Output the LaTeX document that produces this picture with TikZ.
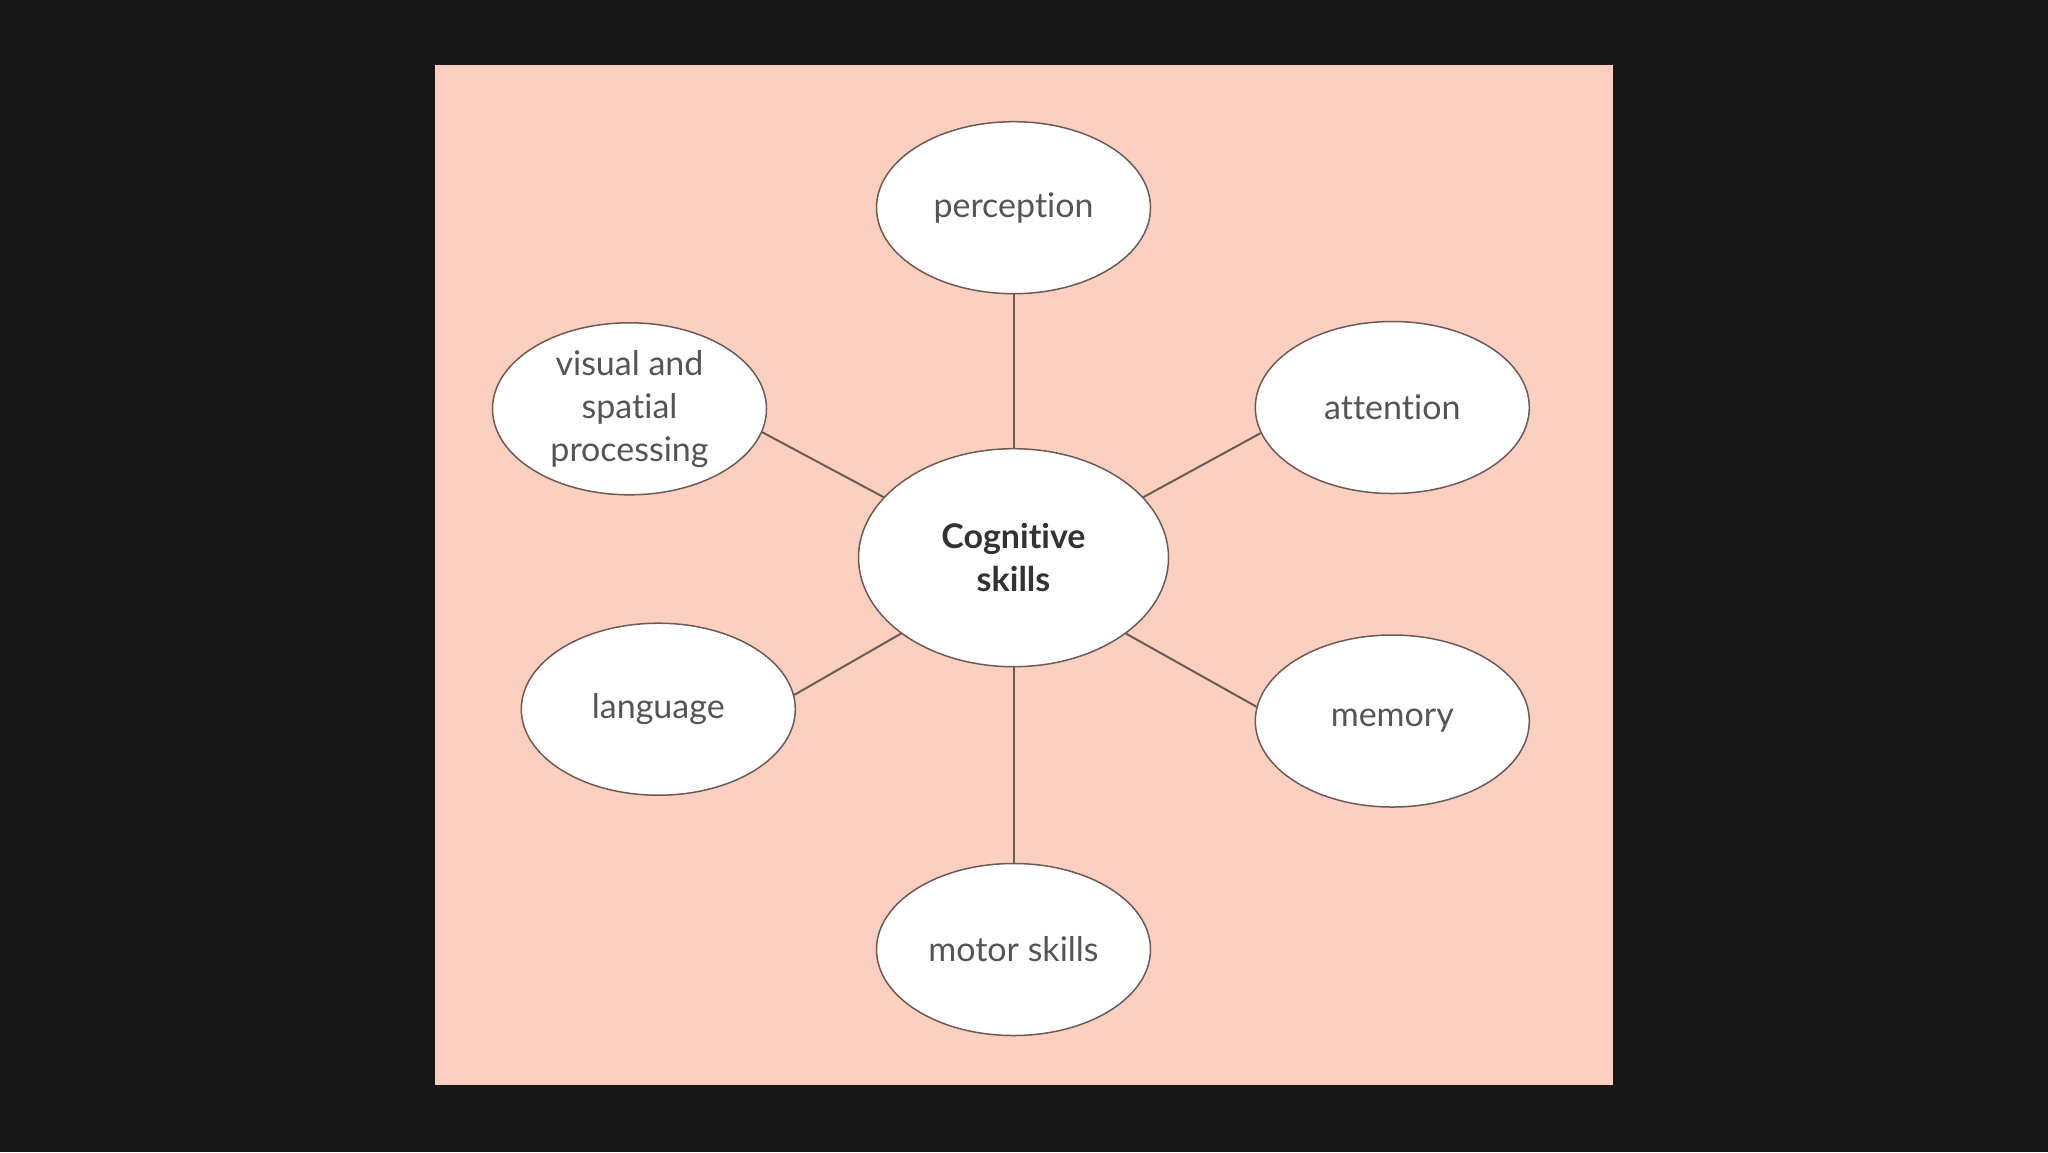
\documentclass[tikz,border=0pt]{standalone}
\usepackage{fontspec}
\setmainfont[Ligatures=NoCommon]{Lato}
\usetikzlibrary{shapes.geometric}
\definecolor{bgdark}{HTML}{171717}
\definecolor{pinkbg}{HTML}{FBD0C0}
\definecolor{edgec}{HTML}{6E5A55}
\definecolor{txt}{HTML}{555555}
\definecolor{txtdark}{HTML}{333333}
\tikzset{
  bubble/.style={ellipse, draw=edgec, line width=0.75pt, fill=white, inner sep=0pt,
    minimum width=137pt, minimum height=86pt, align=center, text=txt,
    font=\fontsize{17}{21.5}\selectfont},
  hub/.style={bubble, minimum width=155pt, minimum height=109pt, text=txtdark,
    font=\fontsize{17}{21.5}\selectfont\bfseries},
  link/.style={draw=edgec, line width=1pt}
}
\begin{document}
\begin{tikzpicture}[x=0.5pt,y=-0.5pt]
\useasboundingbox (0,0) rectangle (2048,1152);
\fill[bgdark] (0,0) rectangle (2048,1152);
\fill[pinkbg] (435,65) rectangle (1613,1085);
\node[hub] (c) at (1013.5,557.7) {Cognitive\\skills};
\node[bubble] (p) at (1013.5,207.7) {perception};
\node[bubble] (a) at (1392.3,407.5) {attention};
\node[bubble] (m) at (1392.3,721) {memory};
\node[bubble] (s) at (1013.5,949.5) {motor skills};
\node[bubble] (l) at (658.3,709.2) {language};
\node[bubble] (v) at (629.5,408.8) {visual and\\spatial\\processing};
\draw[link] (c.90) -- (p.270);
\draw[link] (c.270) -- (s.90);
\draw[link] (c.155) -- (v.-10);
\draw[link] (c.25.6) -- (a.191.6);
\draw[link] (c.-34.6) -- (m.174);
\draw[link] (c.214.9) -- (l.6.5);
\end{tikzpicture}
\end{document}
